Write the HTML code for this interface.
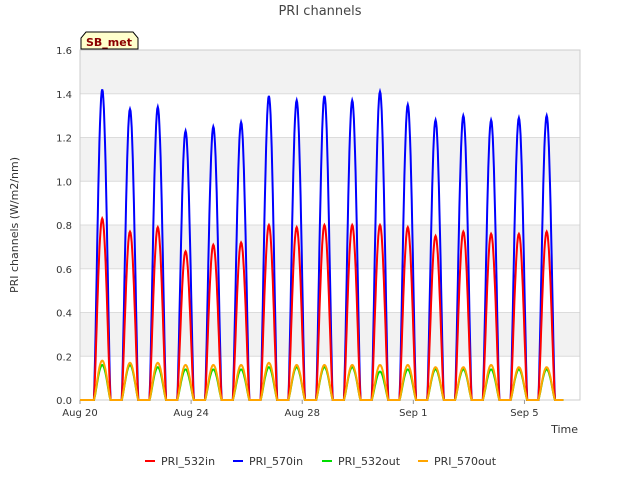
<!DOCTYPE html>
<html><head><meta charset="utf-8"><style>
body{margin:0;background:#fff;font-family:"Liberation Sans","DejaVu Sans",sans-serif}
</style></head><body>
<svg id="c" width="640" height="480" xmlns="http://www.w3.org/2000/svg" font-family="DejaVu Sans, Liberation Sans, sans-serif">
<rect width="640" height="480" fill="#fff"/>
<text x="320" y="15" text-anchor="middle" font-size="13" fill="#444">PRI channels</text>
<g id="bands"></g>
<g id="yax"></g>
<g id="xax"></g>
<g id="series"></g>
<text x="18" y="225" font-size="11" fill="#333" text-anchor="middle" transform="rotate(-90 18 225)">PRI channels (W/m2/nm)</text>
<text x="578" y="433" font-size="11" fill="#333" text-anchor="end">Time</text>
<g>
<path d="M81,49 L81,38 L86,32 L133,32 L138,38 L138,49 Z" fill="#ffffcc" stroke="#000" stroke-width="1"/>
<text x="109" y="46" font-size="11" font-weight="bold" fill="#8b0000" text-anchor="middle">SB_met</text>
</g>
<g id="legend"></g>
</svg>
<script>
const days = [0,1,2,3,4,5,6,7,8,9,10,11,12,13,14,15,16];
const pri570in = [1.42,1.33,1.34,1.23,1.25,1.27,1.39,1.37,1.39,1.37,1.41,1.35,1.28,1.30,1.28,1.29,1.30];
const pri532in = [0.83,0.77,0.79,0.68,0.71,0.72,0.80,0.79,0.80,0.80,0.80,0.79,0.75,0.77,0.76,0.76,0.77];
const pri532out = [0.16,0.16,0.15,0.14,0.14,0.14,0.15,0.15,0.15,0.15,0.13,0.14,0.14,0.14,0.14,0.14,0.14];
const pri570out = [0.18,0.17,0.17,0.16,0.16,0.16,0.17,0.16,0.16,0.16,0.16,0.16,0.15,0.15,0.16,0.15,0.15];
const yTicks = [0.0,0.2,0.4,0.6,0.8,1.0,1.2,1.4,1.6];
const xTickDays = [0,4,8,12,16];
const xTickLabels = ["Aug 20","Aug 24","Aug 28","Sep 1","Sep 5"];
const seriesNames = ["PRI_532in","PRI_570in","PRI_532out","PRI_570out"];

const NS="http://www.w3.org/2000/svg";
const L=80,R=580,T=50,B=400;
const xS=d=>L+(d/18)*(R-L);
const yS=v=>B-(v/1.6)*(B-T);
function mk(tag,attrs,parent){const e=document.createElementNS(NS,tag);for(const k in attrs)e.setAttribute(k,attrs[k]);parent.appendChild(e);return e;}

const bands=document.getElementById('bands');
for(let i=0;i<yTicks.length-1;i++){
  const r=mk('rect',{x:L,y:yS(yTicks[i+1]),width:R-L,height:yS(yTicks[i])-yS(yTicks[i+1]),fill:i%2?'#f2f2f2':'#ffffff'},bands);
  
  
}
const yax=document.getElementById('yax');
yTicks.forEach(v=>{
  const g=mk('line',{x1:L,x2:R,y1:yS(v),y2:yS(v),stroke:'#dcdcdc','stroke-width':1},yax);
  
  
  const t=mk('text',{x:L-8,y:yS(v)+4,'font-size':10,fill:'#333','text-anchor':'end'},yax);
  t.textContent=v.toFixed(1);
  
  
});
mk('rect',{x:L,y:T,width:R-L,height:B-T,fill:'none',stroke:'#ccc'},yax);
const xax=document.getElementById('xax');
xTickDays.forEach((d,i)=>{
  mk('line',{x1:xS(d),x2:xS(d),y1:B,y2:B+4,stroke:'#999'},xax);
  const t=mk('text',{x:xS(d),y:B+16,'font-size':10,fill:'#333','text-anchor':'middle'},xax);
  t.textContent=xTickLabels[i];
  
  
});

function path(vals){
  let p=`M${xS(0)},${yS(0)}`;
  days.forEach((d,i)=>{
    p+=` L${xS(d+0.5).toFixed(1)},${yS(0)}`;
    for(let k=1;k<=30;k++){
      const f=k/30, t=d+0.5+0.6*f;
      const s=Math.pow(Math.sin(Math.PI*f),1.3);
      p+=` L${xS(t).toFixed(1)},${yS(vals[i]*s).toFixed(1)}`;
    }
  });
  p+=` L${xS(17.4)},${yS(0)}`;
  return p;
}
const ser=document.getElementById('series');
const cols=['#ff0000','#0000ff','#00dd00','#ffa500'];
const data=[pri532in,pri570in,pri532out,pri570out];
[1,0,2,3].forEach(i=>{
  const e=mk('path',{d:path(data[i]),fill:'none',stroke:cols[i],'stroke-width':2},ser);
  
  
});
const leg=document.getElementById('legend');
const lx=[145,233,322,418];
seriesNames.forEach((n,i)=>{
  const g=mk('g',{},leg);
  
  
  mk('line',{x1:lx[i],x2:lx[i]+10,y1:461,y2:461,stroke:cols[i],'stroke-width':2},g);
  const t=mk('text',{x:lx[i]+16,y:465,'font-size':11,fill:'#333'},g);
  t.textContent=n;
});
</script>
</body></html>
